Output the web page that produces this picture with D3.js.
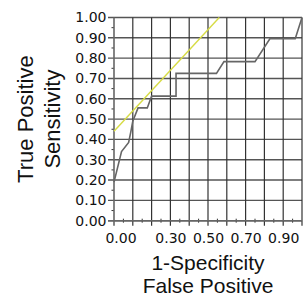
<!DOCTYPE html>
<html>
<head>
<meta charset="utf-8">
<script src="https://cdn.jsdelivr.net/npm/d3@7/dist/d3.min.js"></script>
<style>
  html, body { margin: 0; padding: 0; background: #fff; }
  svg { display: block; }
</style>
</head>
<body>
<div id="chart"></div>
<script>
// ROC curve
const fpr = [0, 0.04, 0.078, 0.09, 0.10, 0.128, 0.177, 0.20, 0.33, 0.33, 0.545, 0.585, 0.75, 0.83, 0.964, 1.0];
const tpr = [0.19, 0.34, 0.385, 0.44, 0.49, 0.555, 0.555, 0.613, 0.613, 0.725, 0.725, 0.783, 0.783, 0.896, 0.896, 1.0];

// yellow reference line
const refX = [0, 0.56];
const refY = [0.44, 1.0];

// tick labels
const yTicks = [0, 0.1, 0.2, 0.3, 0.4, 0.5, 0.6, 0.7, 0.8, 0.9, 1.0];
const xGrid = [0.1, 0.2, 0.3, 0.4, 0.5, 0.6, 0.7, 0.8, 0.9, 1.0];
const xTicks = [0, 0.3, 0.5, 0.7, 0.9];
const minorTicks = [0.05, 0.15, 0.25, 0.35, 0.45, 0.55, 0.65, 0.75, 0.85, 0.95];

const yTitle = ['True Positive', 'Sensitivity'];
const xTitle = ['1-Specificity', 'False Positive'];

const width = 304, height = 301;
const margin = { top: 17.5, right: 2, bottom: 80.3, left: 114 };
const w = width - margin.left - margin.right;
const h = height - margin.top - margin.bottom;

const svg = d3.select('#chart')
    .append('svg')
    .attr('width', width)
    .attr('height', height);

const g = svg.append('g')
    .attr('transform', `translate(${margin.left},${margin.top})`);

const x = d3.scaleLinear().domain([0, 1]).range([0, w]);
const y = d3.scaleLinear().domain([0, 1]).range([h, 0]);

// horizontal grid lines, sticking out to the left as ticks
g.selectAll('.hgrid')
    .data(yTicks)
    .enter()
    .append('line')
    .attr('class', 'hgrid')
    .attr('x1', -6)
    .attr('x2', w)
    .attr('y1', d => y(d))
    .attr('y2', d => y(d))
    .attr('stroke', '#555')
    .attr('stroke-width', 1.4);

// vertical grid lines, sticking out below
g.selectAll('.vgrid')
    .data(xGrid)
    .enter()
    .append('line')
    .attr('class', 'vgrid')
    .attr('x1', d => x(d))
    .attr('x2', d => x(d))
    .attr('y1', 0)
    .attr('y2', h + 5)
    .attr('stroke', '#333')
    .attr('stroke-width', 1.2);

// minor ticks
g.selectAll('.xminor')
    .data(minorTicks)
    .enter()
    .append('line')
    .attr('x1', d => x(d))
    .attr('x2', d => x(d))
    .attr('y1', h - 2)
    .attr('y2', h + 2)
    .attr('stroke', '#333')
    .attr('stroke-width', 1);

g.selectAll('.yminor')
    .data(minorTicks)
    .enter()
    .append('line')
    .attr('x1', -2.5)
    .attr('x2', 0)
    .attr('y1', d => y(d))
    .attr('y2', d => y(d))
    .attr('stroke', '#333')
    .attr('stroke-width', 1);

// axis lines
g.append('line')
    .attr('x1', 0).attr('x2', 0)
    .attr('y1', 0).attr('y2', h + 5)
    .attr('stroke', '#666')
    .attr('stroke-width', 1.6);
g.append('line')
    .attr('x1', -6).attr('x2', w)
    .attr('y1', h).attr('y2', h)
    .attr('stroke', '#666')
    .attr('stroke-width', 1.6);

// tick labels through d3 axes (lines hidden, grid drawn above)
const yAxis = g.append('g')
    .attr('transform', 'translate(-6,0)')
    .call(d3.axisLeft(y).tickValues(yTicks).tickFormat(d3.format('.2f')).tickSize(0).tickPadding(1.5));

const xAxis = g.append('g')
    .attr('transform', `translate(0,${h})`)
    .call(d3.axisBottom(x).tickValues(xTicks).tickFormat(d3.format('.2f')).tickSize(0).tickPadding(12));

[yAxis, xAxis].forEach(a => {
    a.select('.domain').remove();
    a.selectAll('text')
        .attr('fill', '#111')
        .style('font-family', '"DejaVu Sans", sans-serif')
        .style('font-size', '14px');
});
// first x label is nudged right in the original
xAxis.selectAll('.tick text').filter(d => d === 0).attr('dx', 6.5);

// reference line
const line = d3.line().x(d => x(d[0])).y(d => y(d[1]));

g.append('path')
    .datum(refX.map((v, i) => [v, refY[i]]))
    .attr('d', line)
    .attr('fill', 'none')
    .attr('stroke', '#d7dc45')
    .attr('stroke-width', 1.4);

// ROC curve
g.append('path')
    .datum(fpr.map((v, i) => [v, tpr[i]]))
    .attr('d', line)
    .attr('fill', 'none')
    .attr('stroke', '#666')
    .attr('stroke-width', 1.6);

// axis titles
const titleFont = '"Liberation Sans", Arial, sans-serif';

yTitle.forEach((t, i) => {
    svg.append('text')
        .attr('transform', `translate(${33 + i * 27},${margin.top + h / 2}) rotate(-90)`)
        .attr('text-anchor', 'middle')
        .attr('fill', '#111')
        .style('font-family', titleFont)
        .style('font-size', '22px')
        .text(t);
});

xTitle.forEach((t, i) => {
    svg.append('text')
        .attr('x', 208)
        .attr('y', 270 + i * 23)
        .attr('text-anchor', 'middle')
        .attr('fill', '#111')
        .style('font-family', titleFont)
        .style('font-size', '21px')
        .text(t);
});
</script>
</body>
</html>
